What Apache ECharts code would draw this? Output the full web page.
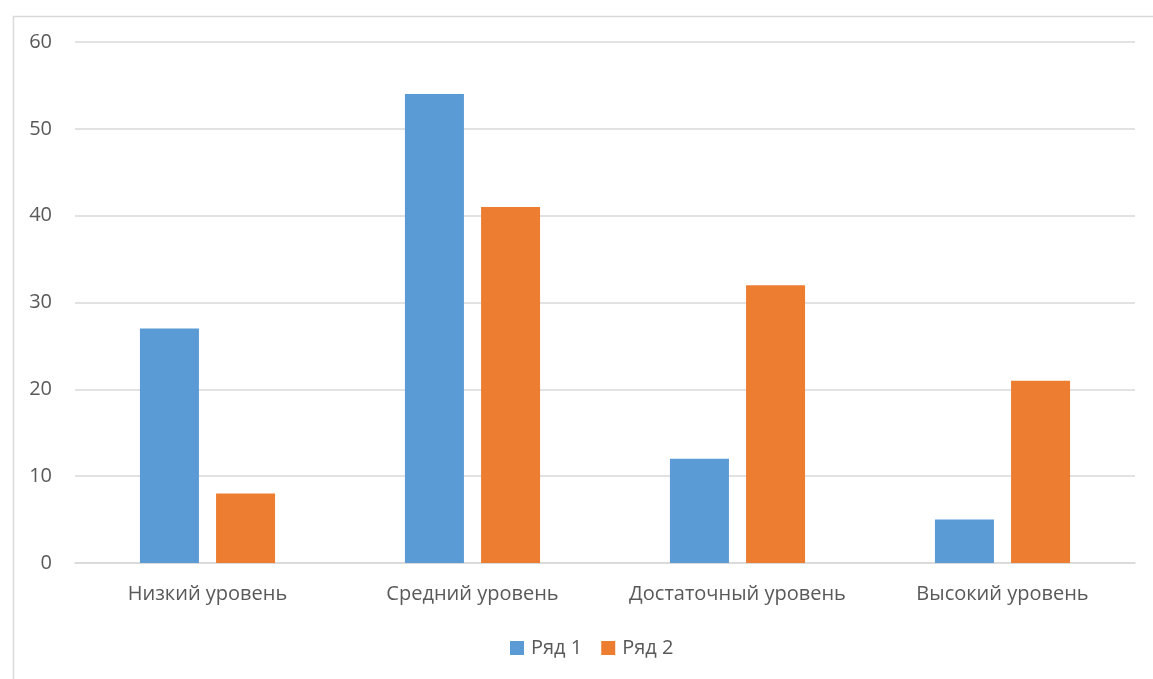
<!DOCTYPE html>
<html>
<head>
<meta charset="utf-8">
<script src="https://cdn.jsdelivr.net/npm/echarts@6/dist/echarts.min.js"></script>
<style>html,body{margin:0;padding:0;background:#fff;}#c{width:1153px;height:679px;}</style>
</head>
<body>
<div id="c"></div>
<script>
const categories = ['Низкий уровень', 'Средний уровень', 'Достаточный уровень', 'Высокий уровень'];
const series1Name = 'Ряд 1';
const series2Name = 'Ряд 2';
const series1 = [27, 54, 12, 5];
const series2 = [8, 41, 32, 21];

const chart = echarts.init(document.getElementById('c'), null, {renderer: 'canvas'});
const font = '"Open Sans", "DejaVu Sans", sans-serif';
chart.setOption({
  animation: false,
  backgroundColor: '#fff',
  color: ['#5B9BD5', '#ED7D31'],
  graphic: [{
    type: 'rect', left: 11, top: 14, z: -1,
    shape: {width: 1160, height: 700},
    style: {fill: 'none', stroke: '#d9d9d9', lineWidth: 1.5}
  }],
  grid: {left: 75, right: 18, top: 42, bottom: 116, containLabel: false},
  legend: {
    top: 633, left: 505,
    itemWidth: 14, itemHeight: 14, itemGap: 19,
    icon: 'rect',
    textStyle: {color: '#595959', fontSize: 20, fontFamily: font, padding: [0, 0, 0, 2]},
    data: [series1Name, series2Name]
  },
  xAxis: {
    type: 'category', data: categories,
    axisLine: {lineStyle: {color: '#d9d9d9', width: 1.5}},
    axisTick: {show: false},
    axisLabel: {color: '#595959', fontSize: 20, fontFamily: font, margin: 21, interval: 0}
  },
  yAxis: {
    type: 'value', min: 0, max: 60, interval: 10,
    axisLine: {show: false}, axisTick: {show: false},
    splitLine: {lineStyle: {color: '#d9d9d9', width: 1.5}},
    axisLabel: {color: '#595959', fontSize: 20, fontFamily: font, margin: 23}
  },
  series: [
    {name: series1Name, type: 'bar', data: series1, barWidth: 59, barGap: '29%'},
    {name: series2Name, type: 'bar', data: series2, barWidth: 59, barGap: '29%'}
  ]
});
</script>
</body>
</html>
